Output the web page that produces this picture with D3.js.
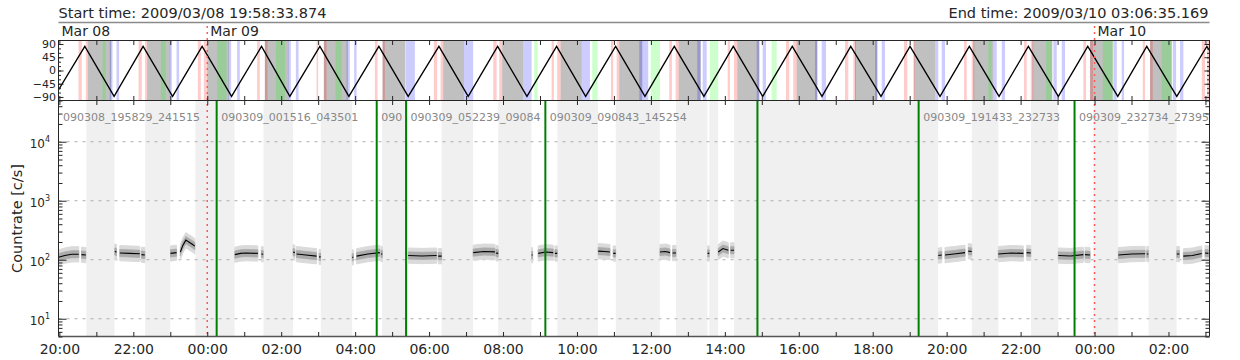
<!DOCTYPE html>
<html>
<head>
<meta charset="utf-8">
<script src="https://cdn.jsdelivr.net/npm/d3@7"></script>
<style>
  body { margin: 0; background: #fff; }
  svg { display: block; font-family: "DejaVu Sans", sans-serif; }
</style>
</head>
<body>
<div id="chart"></div>
<script>
// all times are hours counted from 2009-03-08 00:00 UT
const startHour = 19.97608;
const endHour = 51.10977;
const startText = "Start time: 2009/03/08 19:58:33.874";
const endText = "End time: 2009/03/10 03:06:35.169";
const dayLabels = [["Mar 08", startHour], ["Mar 09", 24], ["Mar 10", 48]];
const midnights = [24, 48];

const latTicks = [-90, -45, 0, 45, 90];
const rateTicks = [10, 100, 1000, 10000];

// orbit angle, turning points of the curve
const orbit = [
  [19.976, -66], [20.688, 82], [21.480, -88], [22.265, 82], [23.061, -88], [23.861, 82],
  [24.657, -88], [25.468, 82], [26.234, -88], [27.046, 82], [27.831, -88], [28.642, 82],
  [29.435, -88], [30.266, 82], [31.058, -88], [31.854, 82], [32.647, -88], [33.450, 82],
  [34.235, -88], [35.046, 82], [35.839, -88], [36.632, 82], [37.435, -88], [38.228, 82],
  [39.024, -88], [39.824, 82], [40.628, -88], [41.405, 82], [42.224, -88], [43.009, 82],
  [43.821, -88], [44.613, 82], [45.417, -88], [46.210, 82], [47.021, -88], [47.817, 82],
  [48.629, -88], [49.413, 82], [50.225, -88], [51.037, 82], [51.110, 68]
];

const grayBands = [
  [20.769, 21.40], [22.373, 23.00], [23.997, 24.59], [25.558, 26.20], [27.154, 27.80],
  [28.742, 29.36], [30.382, 30.942], [31.978, 32.546], [33.558, 34.126], [35.144, 35.766],
  [36.751, 37.346], [38.337, 38.932], [39.943, 40.501], [41.521, 42.124], [43.125, 43.685],
  [44.721, 45.262], [46.318, 46.859], [47.879, 48.493], [49.502, 50.089]
];
const redBands = [
  [20.517, 20.607], [20.715, 20.769], [22.141, 22.230], [22.319, 22.373],
  [23.745, 23.826], [23.907, 23.989], [25.349, 25.423], [25.558, 25.631],
  [26.956, 27.000], [27.154, 27.227], [28.534, 28.607], [28.742, 28.804],
  [30.130, 30.219], [30.311, 30.382], [31.735, 31.827], [31.897, 31.978],
  [33.315, 33.377], [33.466, 33.558], [34.919, 34.981], [35.073, 35.144],
  [36.496, 36.569], [36.670, 36.751], [38.077, 38.139], [38.247, 38.337],
  [39.654, 39.743], [39.851, 39.943], [41.250, 41.339], [41.475, 41.548],
  [42.846, 42.936], [43.098, 43.144], [44.470, 44.543], [44.678, 44.748],
  [46.093, 46.166], [46.274, 46.344], [47.697, 47.771], [47.879, 47.960],
  [49.305, 49.367], [49.502, 49.575], [50.901, 50.990], [51.044, 51.110]
];
const blueBands = [
  [21.364, 21.437], [21.545, 21.616], [22.987, 23.041], [23.169, 23.239],
  [24.576, 24.646], [24.808, 24.881], [26.188, 26.261], [26.396, 26.470],
  [27.768, 27.857], [27.974, 28.039], [29.373, 29.616], [30.942, 31.193],
  [32.546, 32.773], [34.126, 34.351], [35.685, 35.928], [37.254, 37.346],
  [37.400, 37.508], [38.861, 38.932], [39.023, 39.113], [40.438, 40.501],
  [40.620, 40.736], [42.062, 42.124], [42.243, 42.332], [43.685, 43.774],
  [43.866, 43.956], [45.262, 45.354], [45.490, 45.579], [46.886, 46.978],
  [47.113, 47.202], [48.509, 48.601], [48.736, 48.799], [50.116, 50.206],
  [50.314, 50.403]
];
const greenBands = [
  [21.167, 21.256], [22.744, 22.879], [24.267, 24.522], [25.855, 26.107], [27.471, 27.633],
  [32.844, 32.936], [34.413, 34.559], [35.993, 36.245], [37.598, 37.822], [39.267, 39.402],
  [45.127, 45.219], [46.689, 46.843], [48.222, 48.493], [49.819, 50.089]
];

// no-data stretches in the count rate panel
const gapBands = [
  [20.73, 21.49], [22.32, 23.00], [23.68, 24.74], [25.52, 26.32], [27.07, 27.92],
  [28.73, 29.43], [30.34, 31.19], [31.87, 32.77], [33.47, 34.57], [35.05, 36.24],
  [36.68, 37.53], [37.58, 37.82], [38.25, 43.77], [44.68, 45.40], [46.28, 47.02],
  [47.97, 48.64], [49.46, 50.22]
];

// file boundaries and names
const fileStarts = [19.9747, 24.2544, 28.5836, 29.3775, 33.1453, 38.8817, 43.2425, 47.4594];
const fileNames = [
  "090308_195829_241515", "090309_001516_043501", "090309_043502_052238",
  "090309_052239_090842", "090309_090843_145254", "", "090309_191433_232733",
  "090309_232734_273955"
];

// count rate [c/s], mean curve of each data stretch
const rateSegments = [
  [[19.976, 110], [20.146, 118], [20.336, 124], [20.525, 124]],
  [[20.598, 122], [20.715, 120]],
  [[21.499, 138], [21.545, 135]],
  [[21.635, 130], [21.905, 128], [22.176, 126]],
  [[22.222, 122], [22.311, 120]],
  [[23.006, 128], [23.169, 132]],
  [[23.272, 135], [23.339, 175], [23.420, 215], [23.501, 200], [23.583, 185], [23.664, 170]],
  [[24.746, 122], [24.900, 128], [25.044, 130], [25.368, 128]],
  [[25.463, 125], [25.512, 124]],
  [[26.323, 135], [26.369, 132]],
  [[26.415, 125], [26.667, 120], [26.956, 115]],
  [[27.027, 112], [27.065, 112]],
  [[27.920, 110], [27.952, 110]],
  [[28.039, 115], [28.345, 125], [28.669, 132]],
  [[28.700, 125], [28.735, 125]],
  [[29.435, 118], [29.806, 116], [30.203, 118]],
  [[30.247, 115], [30.339, 115]],
  [[31.193, 132], [31.483, 138], [31.781, 136]],
  [[31.808, 130], [31.870, 128]],
  [[32.774, 120], [32.801, 120]],
  [[32.952, 128], [33.150, 135], [33.358, 132]],
  [[33.404, 128], [33.466, 128]],
  [[34.575, 140], [34.750, 138], [34.892, 135]],
  [[34.981, 128], [35.046, 128]],
  [[36.245, 135], [36.400, 138], [36.515, 132]],
  [[36.588, 130], [36.678, 130]],
  [[37.535, 128], [37.579, 128]],
  [[37.822, 135], [37.949, 155], [38.093, 145]],
  [[38.158, 145], [38.247, 145]],
  [[43.775, 118], [43.867, 120]],
  [[43.956, 120], [44.250, 126], [44.497, 132]],
  [[44.586, 140], [44.678, 138]],
  [[45.398, 125], [45.750, 130], [46.074, 128]],
  [[46.166, 132], [46.275, 130]],
  [[47.021, 118], [47.350, 116], [47.698, 122]],
  [[47.744, 122], [47.879, 120]],
  [[48.645, 120], [49.000, 125], [49.367, 126]],
  [[49.413, 125], [49.456, 125]],
  [[50.225, 125], [50.295, 125]],
  [[50.403, 115], [50.650, 118], [50.901, 128]],
  [[50.990, 130], [51.080, 128]]
];
// spread of the single points around the mean (ratio), outer and dense part
const scatterOuter = [0.74, 1.34];
const scatterInner = [0.87, 1.15];

const W = 1240, H = 360;
const L = 58.5, R = 1209.5;
const topY0 = 40.5, midY = 100.5, botY = 336.5;
const ink = "#262626";

const toDate = h => new Date(Date.UTC(2009, 2, 8) + h * 3600000);

const svg = d3.select("#chart").append("svg")
  .attr("width", W).attr("height", H);

const x = d3.scaleUtc().domain([toDate(startHour), toDate(endHour)]).range([L, R]);
const yLat = d3.scaleLinear().domain([-102, 102]).range([midY, topY0]);
const yRate = d3.scaleLog().domain([5, 50000]).range([botY, midY]);
const xh = h => x(toDate(h));

const defs = svg.append("defs");
defs.append("clipPath").attr("id", "clipTop").append("rect")
  .attr("x", L).attr("y", topY0).attr("width", R - L).attr("height", midY - topY0);
defs.append("clipPath").attr("id", "clipBot").append("rect")
  .attr("x", L).attr("y", midY).attr("width", R - L).attr("height", botY - midY);

// header
svg.append("text").attr("x", L).attr("y", 18).attr("font-size", 14.5).attr("fill", ink).text(startText);
svg.append("text").attr("x", R - 1).attr("y", 18).attr("font-size", 14.5).attr("fill", ink)
  .attr("text-anchor", "end").text(endText);
svg.append("line").attr("x1", L).attr("x2", R).attr("y1", 22.5).attr("y2", 22.5)
  .attr("stroke", "#8a8a8a").attr("stroke-width", 1.5);

svg.selectAll(".day").data(dayLabels).enter().append("text")
  .attr("x", d => Math.max(xh(d[1]), L) + 3)
  .attr("y", 36).attr("font-size", 14).attr("fill", ink).text(d => d[0]);

// ---- top panel
const topPanel = svg.append("g").attr("clip-path", "url(#clipTop)");
const band = (g, data, y0, y1, fill) => g.append("g").selectAll("rect").data(data).enter().append("rect")
  .attr("x", d => xh(d[0])).attr("width", d => Math.max(xh(d[1]) - xh(d[0]), 0.8))
  .attr("y", y0).attr("height", y1 - y0).attr("fill", fill);

band(topPanel, grayBands, topY0, midY, "#c0c0c0");
band(topPanel, redBands, topY0, midY, "rgba(255,0,0,0.2)");
band(topPanel, blueBands, topY0, midY, "rgba(0,0,255,0.2)");
band(topPanel, greenBands, topY0, midY, "rgba(0,255,0,0.2)");

topPanel.append("path").datum(orbit)
  .attr("d", d3.line().x(d => xh(d[0])).y(d => yLat(d[1])))
  .attr("fill", "none").attr("stroke", "#000").attr("stroke-width", 1.3);

// ---- bottom panel
const botPanel = svg.append("g").attr("clip-path", "url(#clipBot)");
band(botPanel, gapBands, midY, botY, "#f0f0f0");

botPanel.append("g").selectAll("line").data(rateTicks).enter().append("line")
  .attr("x1", L).attr("x2", R).attr("y1", d => yRate(d)).attr("y2", d => yRate(d))
  .attr("stroke", "#adadad").attr("stroke-dasharray", "3,5");

const areaOf = f => d3.area().x(d => xh(d[0]))
  .y0(d => yRate(d[1] * f[0])).y1(d => yRate(d[1] * f[1]));
const segs = botPanel.append("g");
segs.selectAll(".outer").data(rateSegments).enter().append("path")
  .attr("d", areaOf(scatterOuter)).attr("fill", "#dadada").attr("stroke", "#dadada").attr("stroke-width", 1);
segs.selectAll(".inner").data(rateSegments).enter().append("path")
  .attr("d", areaOf(scatterInner)).attr("fill", "#ababab").attr("stroke", "#ababab").attr("stroke-width", 0.8);
segs.selectAll(".mean").data(rateSegments).enter().append("path")
  .attr("d", d3.line().x(d => xh(d[0])).y(d => yRate(d[1])))
  .attr("fill", "none").attr("stroke", "#000").attr("stroke-width", 1.1);

// file boundaries
botPanel.append("g").selectAll("line").data(fileStarts.slice(1)).enter().append("line")
  .attr("x1", d => xh(d)).attr("x2", d => xh(d)).attr("y1", midY).attr("y2", botY)
  .attr("stroke", "#008000").attr("stroke-width", 2);

// file names, cut where the next file starts
fileNames.forEach((name, i) => {
  if (!name) return;
  const x0 = Math.max(xh(fileStarts[i]), L) + 4.5;
  const x1 = i + 1 < fileStarts.length ? xh(fileStarts[i + 1]) - 1 : R;
  const id = "clipLab" + i;
  defs.append("clipPath").attr("id", id).append("rect")
    .attr("x", x0 - 1).attr("y", midY).attr("width", x1 - x0 + 1).attr("height", 30);
  const t = svg.append("text").attr("clip-path", `url(#${id})`)
    .attr("x", x0).attr("y", 121).attr("font-size", 11).attr("fill", "#888")
    .text(name);
  let s = name;
  while (s.length > 1 && t.node().getComputedTextLength() > x1 - x0 + 3) {
    s = s.slice(0, -1);
    t.text(s);
  }
});

// midnight markers
svg.append("g").selectAll("line").data(midnights).enter().append("line")
  .attr("x1", d => xh(d)).attr("x2", d => xh(d)).attr("y1", 26).attr("y2", botY)
  .attr("stroke", "#ff5a5a").attr("stroke-width", 1.5).attr("stroke-dasharray", "2,4");

// ---- frames & axes
svg.append("rect").attr("x", L).attr("y", topY0).attr("width", R - L).attr("height", midY - topY0)
  .attr("fill", "none").attr("stroke", ink);
svg.append("line").attr("x1", L).attr("x2", L).attr("y1", midY).attr("y2", botY).attr("stroke", ink);
svg.append("line").attr("x1", R).attr("x2", R).attr("y1", midY).attr("y2", botY).attr("stroke", ink);
svg.append("line").attr("x1", L).attr("x2", R).attr("y1", botY).attr("y2", botY)
  .attr("stroke", "#555").attr("stroke-width", 1.6);

const hourTicks = (axis, y) => svg.append("g").attr("transform", `translate(0,${y})`)
  .call(axis(x).ticks(d3.utcHour.every(1)).tickSize(-4.5).tickFormat(""))
  .call(g => g.select(".domain").remove())
  .call(g => g.selectAll("line").attr("stroke", ink));
hourTicks(d3.axisTop, topY0);
hourTicks(d3.axisBottom, midY);
hourTicks(d3.axisTop, midY);
hourTicks(d3.axisBottom, botY);

svg.append("g").attr("transform", `translate(0,${botY})`)
  .call(d3.axisBottom(x).ticks(d3.utcHour.every(2)).tickFormat(d3.utcFormat("%H:%M")).tickSize(0).tickPadding(7.5))
  .call(g => g.select(".domain").remove())
  .call(g => g.selectAll("text").attr("font-size", 14).attr("fill", ink).attr("font-family", "DejaVu Sans"));

// latitude axis
const latMinor = d3.range(-90, 91, 15);
[[d3.axisRight, L], [d3.axisLeft, R]].forEach(([axis, xp]) => {
  svg.append("g").attr("transform", `translate(${xp},0)`)
    .call(axis(yLat).tickValues(latMinor).tickSize(2.5).tickFormat(""))
    .call(g => g.select(".domain").remove())
    .call(g => g.selectAll("line").attr("stroke", ink));
  svg.append("g").attr("transform", `translate(${xp},0)`)
    .call(axis(yLat).tickValues(latTicks).tickSize(5).tickFormat(""))
    .call(g => g.select(".domain").remove())
    .call(g => g.selectAll("line").attr("stroke", ink));
});
svg.append("g").selectAll("text").data(latTicks).enter().append("text")
  .attr("x", 56).attr("y", d => yLat(d)).attr("dy", "0.36em")
  .attr("text-anchor", "end").attr("font-size", 11).attr("fill", ink)
  .text(d => d < 0 ? "\u2212" + Math.abs(d) : d);

// count rate axis
const rateMinor = [];
[1, 10, 100, 1000, 10000].forEach(p => d3.range(2, 10).forEach(m => {
  const v = p * m;
  if (v >= 5 && v <= 50000) rateMinor.push(v);
}));
[[d3.axisRight, L], [d3.axisLeft, R]].forEach(([axis, xp]) => {
  svg.append("g").attr("transform", `translate(${xp},0)`)
    .call(axis(yRate).tickValues(rateMinor).tickSize(4).tickFormat(""))
    .call(g => g.select(".domain").remove())
    .call(g => g.selectAll("line").attr("stroke", ink));
  svg.append("g").attr("transform", `translate(${xp},0)`)
    .call(axis(yRate).tickValues(rateTicks).tickSize(8).tickFormat(""))
    .call(g => g.select(".domain").remove())
    .call(g => g.selectAll("line").attr("stroke", ink));
});
const rl = svg.append("g").selectAll("text").data(rateTicks).enter().append("text")
  .attr("x", 50).attr("y", d => yRate(d)).attr("dy", "0.4em")
  .attr("text-anchor", "end").attr("fill", ink);
rl.append("tspan").attr("font-size", 12).text("10");
rl.append("tspan").attr("font-size", 8).attr("dy", "-0.8em").text(d => Math.round(Math.log10(d)));

svg.append("text").attr("transform", `translate(22,${(midY + botY) / 2}) rotate(-90)`)
  .attr("text-anchor", "middle").attr("font-size", 14.5).attr("fill", ink)
  .text("Countrate [c/s]");
</script>
</body>
</html>
